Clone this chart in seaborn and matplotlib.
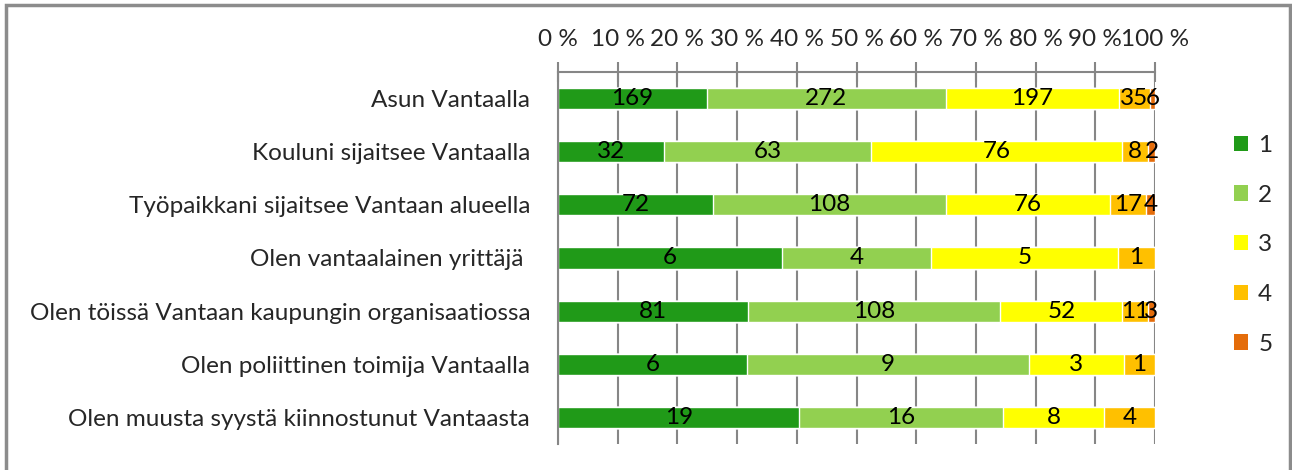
import numpy as np
import pandas as pd
import matplotlib
matplotlib.use("Agg")
import matplotlib.pyplot as plt
from matplotlib.patches import Patch, Rectangle
import seaborn as sns

# Data
categories = [
    "Asun Vantaalla",
    "Kouluni sijaitsee Vantaalla",
    "Työpaikkani sijaitsee Vantaan alueella",
    "Olen vantaalainen yrittäjä ",
    "Olen töissä Vantaan kaupungin organisaatiossa",
    "Olen poliittinen toimija Vantaalla",
    "Olen muusta syystä kiinnostunut Vantaasta",
]
answers = ["1", "2", "3", "4", "5"]
v1 = [169, 32, 72, 6, 81, 6, 19]
v2 = [272, 63, 108, 4, 108, 9, 16]
v3 = [197, 76, 76, 5, 52, 3, 8]
v4 = [35, 8, 17, 1, 11, 1, 4]
v5 = [6, 2, 4, 0, 3, 0, 0]
colors = ["#209a18", "#92d050", "#ffff00", "#ffc000", "#e46c0a"]

sns.set_style("white")
plt.rcParams["font.family"] = ["Lato", "DejaVu Sans"]
FS = 17.5

counts = np.array([v1, v2, v3, v4, v5], dtype=float)
pct = counts / counts.sum(axis=0) * 100
cum = np.cumsum(pct, axis=0)

fig = plt.figure(figsize=(12.92, 4.70), dpi=100)
ax = fig.add_axes([558 / 1292, 1 - 444 / 470, (1155 - 558) / 1292, (444 - 72) / 470])

# stacked bars drawn back to front as cumulative totals
for k in range(len(answers) - 1, -1, -1):
    df = pd.DataFrame({"cat": categories, "val": cum[k]})
    sns.barplot(data=df, x="val", y="cat", orient="h", color=colors[k],
                width=0.4, saturation=1, ax=ax, zorder=2)

# value labels in the middle of each segment
for k in range(len(answers)):
    for i in range(len(categories)):
        if counts[k, i] > 0:
            mid = cum[k, i] - pct[k, i] / 2
            ax.text(mid, i, f"{int(counts[k, i])}", ha="center", va="center",
                    fontsize=FS, color="black", zorder=3)

ax.set_xlim(0, 100)
ax.set_ylim(len(categories) - 0.5, -0.5)
ax.set_xlabel("")
ax.set_ylabel("")
ax.xaxis.tick_top()
ax.set_xticks(np.arange(0, 101, 10))
ax.set_xticklabels([f"{t} %" for t in range(0, 101, 10)], fontsize=FS)
ax.set_yticks(range(len(categories)))
ax.set_yticklabels(categories, fontsize=FS)
ax.set_yticks(np.arange(-0.5, len(categories), 1), minor=True)

grey = "#868686"
ax.xaxis.grid(True, color=grey, lw=1.5, zorder=0)
ax.set_axisbelow(True)
for side in ["bottom", "right"]:
    ax.spines[side].set_visible(False)
for side in ["top", "left"]:
    ax.spines[side].set_color(grey)
    ax.spines[side].set_linewidth(1.5)
ax.tick_params(axis="x", which="major", direction="inout", length=14, width=1.5,
               color=grey, pad=9)
ax.tick_params(axis="y", which="major", length=0, pad=20)
ax.tick_params(axis="y", which="minor", direction="out", length=7, width=1.5, color=grey)

handles = [Patch(facecolor=c, edgecolor="none") for c in colors]
leg = fig.legend(handles, answers, loc="upper left", bbox_to_anchor=(1212 / 1292, 1 - 113 / 470),
                 frameon=False, fontsize=FS, handlelength=0.6, handleheight=0.6,
                 handletextpad=0.4, labelspacing=1.18)

fig.add_artist(Rectangle((6 / 1292, -0.02), 1284 / 1292, 1 - 5 / 470 + 0.02,
                         transform=fig.transFigure, fill=False, ec="#8c8c8c", lw=2.5))

fig.savefig("out.png", dpi=100)
